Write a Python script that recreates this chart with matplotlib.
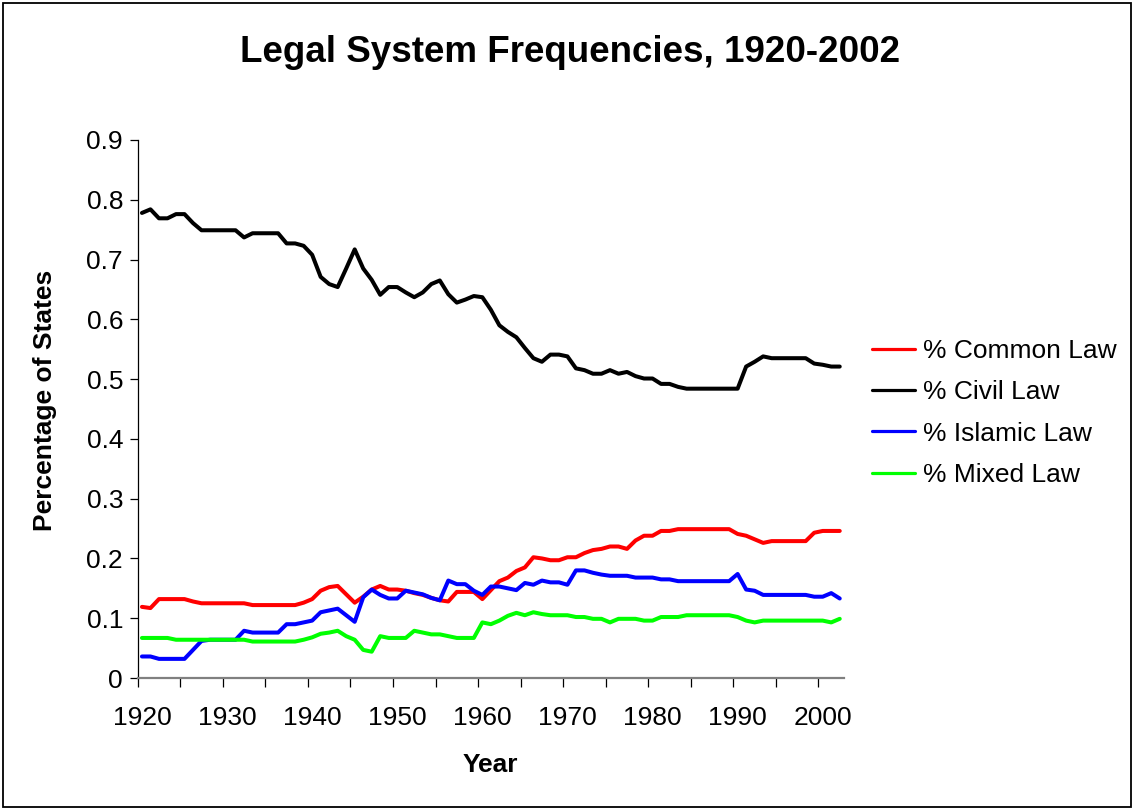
import matplotlib
matplotlib.use('Agg')
import matplotlib.pyplot as plt
from matplotlib.patches import Rectangle
from matplotlib.ticker import FixedLocator

#constants and default params
plt.rcParams['font.family'] = ['Liberation Sans', 'DejaVu Sans']
FIG_W, FIG_H = 1134, 809
TITLE = 'Legal System Frequencies, 1920-2002'

#data, one value per year 1920..2002
YEARS = list(range(1920, 2003))
COMMON = [
    0.119, 0.117, 0.132, 0.132, 0.132, 0.132, 0.128, 0.125, 0.125, 0.125,
    0.125, 0.125, 0.125, 0.122, 0.122, 0.122, 0.122, 0.122, 0.122, 0.126,
    0.132, 0.146, 0.152, 0.154, 0.140, 0.126, 0.136, 0.148, 0.154, 0.148,
    0.148, 0.146, 0.142, 0.139, 0.134, 0.130, 0.128, 0.144, 0.144, 0.144,
    0.132, 0.147, 0.162, 0.168, 0.179, 0.185, 0.202, 0.200, 0.197, 0.197,
    0.202, 0.202, 0.209, 0.214, 0.216, 0.220, 0.220, 0.216, 0.230, 0.238,
    0.238, 0.246, 0.246, 0.249, 0.249, 0.249, 0.249, 0.249, 0.249, 0.249,
    0.241, 0.238, 0.232, 0.226, 0.229, 0.229, 0.229, 0.229, 0.229, 0.243,
    0.246, 0.246, 0.246
]
CIVIL = [
    0.778, 0.784, 0.769, 0.769, 0.776, 0.776, 0.761, 0.749, 0.749, 0.749,
    0.749, 0.749, 0.737, 0.744, 0.744, 0.744, 0.744, 0.727, 0.727, 0.723,
    0.708, 0.671, 0.659, 0.654, 0.685, 0.717, 0.685, 0.666, 0.641, 0.654,
    0.654, 0.645, 0.637, 0.645, 0.659, 0.665, 0.642, 0.628, 0.633, 0.639,
    0.637, 0.616, 0.590, 0.579, 0.570, 0.552, 0.535, 0.529, 0.541, 0.541,
    0.538, 0.518, 0.515, 0.509, 0.509, 0.515, 0.509, 0.512, 0.505, 0.501,
    0.501, 0.492, 0.492, 0.487, 0.484, 0.484, 0.484, 0.484, 0.484, 0.484,
    0.484, 0.521, 0.529, 0.538, 0.535, 0.535, 0.535, 0.535, 0.535, 0.526,
    0.524, 0.521, 0.521
]
ISLAMIC = [
    0.036, 0.036, 0.032, 0.032, 0.032, 0.032, 0.047, 0.062, 0.064, 0.064,
    0.064, 0.064, 0.079, 0.076, 0.076, 0.076, 0.076, 0.090, 0.090, 0.093,
    0.096, 0.110, 0.113, 0.116, 0.105, 0.094, 0.135, 0.148, 0.139, 0.133,
    0.133, 0.146, 0.143, 0.140, 0.134, 0.130, 0.163, 0.157, 0.157, 0.146,
    0.139, 0.153, 0.153, 0.150, 0.147, 0.159, 0.156, 0.163, 0.160, 0.160,
    0.156, 0.180, 0.180, 0.176, 0.173, 0.171, 0.171, 0.171, 0.168, 0.168,
    0.168, 0.165, 0.165, 0.162, 0.162, 0.162, 0.162, 0.162, 0.162, 0.162,
    0.174, 0.148, 0.146, 0.139, 0.139, 0.139, 0.139, 0.139, 0.139, 0.136,
    0.136, 0.142, 0.133
]
MIXED = [
    0.067, 0.067, 0.067, 0.067, 0.064, 0.064, 0.064, 0.064, 0.064, 0.064,
    0.064, 0.064, 0.064, 0.061, 0.061, 0.061, 0.061, 0.061, 0.061, 0.064,
    0.068, 0.074, 0.076, 0.079, 0.070, 0.064, 0.047, 0.044, 0.070, 0.067,
    0.067, 0.067, 0.079, 0.076, 0.073, 0.073, 0.070, 0.067, 0.067, 0.067,
    0.093, 0.090, 0.096, 0.104, 0.109, 0.105, 0.110, 0.107, 0.105, 0.105,
    0.105, 0.102, 0.102, 0.099, 0.099, 0.093, 0.099, 0.099, 0.099, 0.096,
    0.096, 0.102, 0.102, 0.102, 0.105, 0.105, 0.105, 0.105, 0.105, 0.105,
    0.102, 0.096, 0.093, 0.096, 0.096, 0.096, 0.096, 0.096, 0.096, 0.096,
    0.096, 0.093, 0.099
]
SERIES = [
    ('% Common Law', COMMON, '#ff0000'),
    ('% Civil Law', CIVIL, '#000000'),
    ('% Islamic Law', ISLAMIC, '#0000ff'),
    ('% Mixed Law', MIXED, '#00ff00'),
]
Y_TICKS = [0.0, 0.1, 0.2, 0.3, 0.4, 0.5, 0.6, 0.7, 0.8, 0.9]
Y_LABELS = ['0', '0.1', '0.2', '0.3', '0.4', '0.5', '0.6', '0.7', '0.8', '0.9']
X_LABELS = [1920, 1930, 1940, 1950, 1960, 1970, 1980, 1990, 2000]


#pixel box -> figure fraction
def px_box(left, top, right, bottom):
    return [left / FIG_W, 1 - bottom / FIG_H,
            (right - left) / FIG_W, (bottom - top) / FIG_H]


#ticks, spines and labels in the excel look
def config_axes(ax):
    ax.set_xlim(YEARS[0] - 0.5, YEARS[-1] + 0.5)
    ax.set_ylim(0, 0.9)
    ax.set_yticks(Y_TICKS)
    ax.set_yticklabels(Y_LABELS)
    ax.set_xticks(X_LABELS)
    ax.set_xticklabels([str(y) for y in X_LABELS])
    #tick marks sit on category borders, every 5 years
    ax.xaxis.set_minor_locator(FixedLocator(
        [YEARS[0] - 0.5 + 5 * k for k in range(17)]))
    ax.tick_params(axis='x', which='major', length=0, pad=20.5, labelsize=19)
    ax.tick_params(axis='x', which='minor', length=6.5, width=0.9,
                   direction='out', color='black')
    ax.tick_params(axis='y', which='major', length=6, width=0.9, pad=4.5,
                   labelsize=19, direction='out')
    for side in ('top', 'right'):
        ax.spines[side].set_visible(False)
    ax.spines['bottom'].set_color('#808080')
    ax.spines['bottom'].set_linewidth(1.6)
    ax.spines['left'].set_color('black')
    ax.spines['left'].set_linewidth(0.9)


#########let's draw it###########
if __name__ == '__main__':
    fig = plt.figure(figsize=(FIG_W / 100, FIG_H / 100), dpi=100)
    ax = fig.add_axes(px_box(137.7, 140, 844, 678))

    for label, values, color in SERIES:
        ax.plot(YEARS, values, color=color, linewidth=2.9, label=label,
                solid_joinstyle='round', solid_capstyle='round')

    config_axes(ax)

    leg = ax.legend(loc='center left', bbox_to_anchor=(872 / FIG_W, 1 - 413 / FIG_H),
                    bbox_transform=fig.transFigure, frameon=False, fontsize=19,
                    handlelength=1.63, handletextpad=0.3, labelspacing=0.66,
                    borderpad=0, borderaxespad=0)
    for line in leg.get_lines():
        line.set_linewidth(2.3)

    fig.text(570 / FIG_W, 1 - 52 / FIG_H, TITLE, ha='center', va='center',
             fontsize=26.5, fontweight='bold')
    fig.text(45 / FIG_W, 1 - 400 / FIG_H, 'Percentage of States', rotation=90,
             ha='center', va='center', fontsize=19, fontweight='bold')
    fig.text(490.8 / FIG_W, 1 - 765 / FIG_H, 'Year', ha='center', va='center',
             fontsize=19, fontweight='bold')

    #outer chart border
    fig.patches.append(Rectangle((2.5 / FIG_W, 2.5 / FIG_H), 1 - 6 / FIG_W,
                                 1 - 5.5 / FIG_H, transform=fig.transFigure,
                                 fill=False, edgecolor='black', linewidth=1.3))

    fig.savefig('out.png', dpi=100)
